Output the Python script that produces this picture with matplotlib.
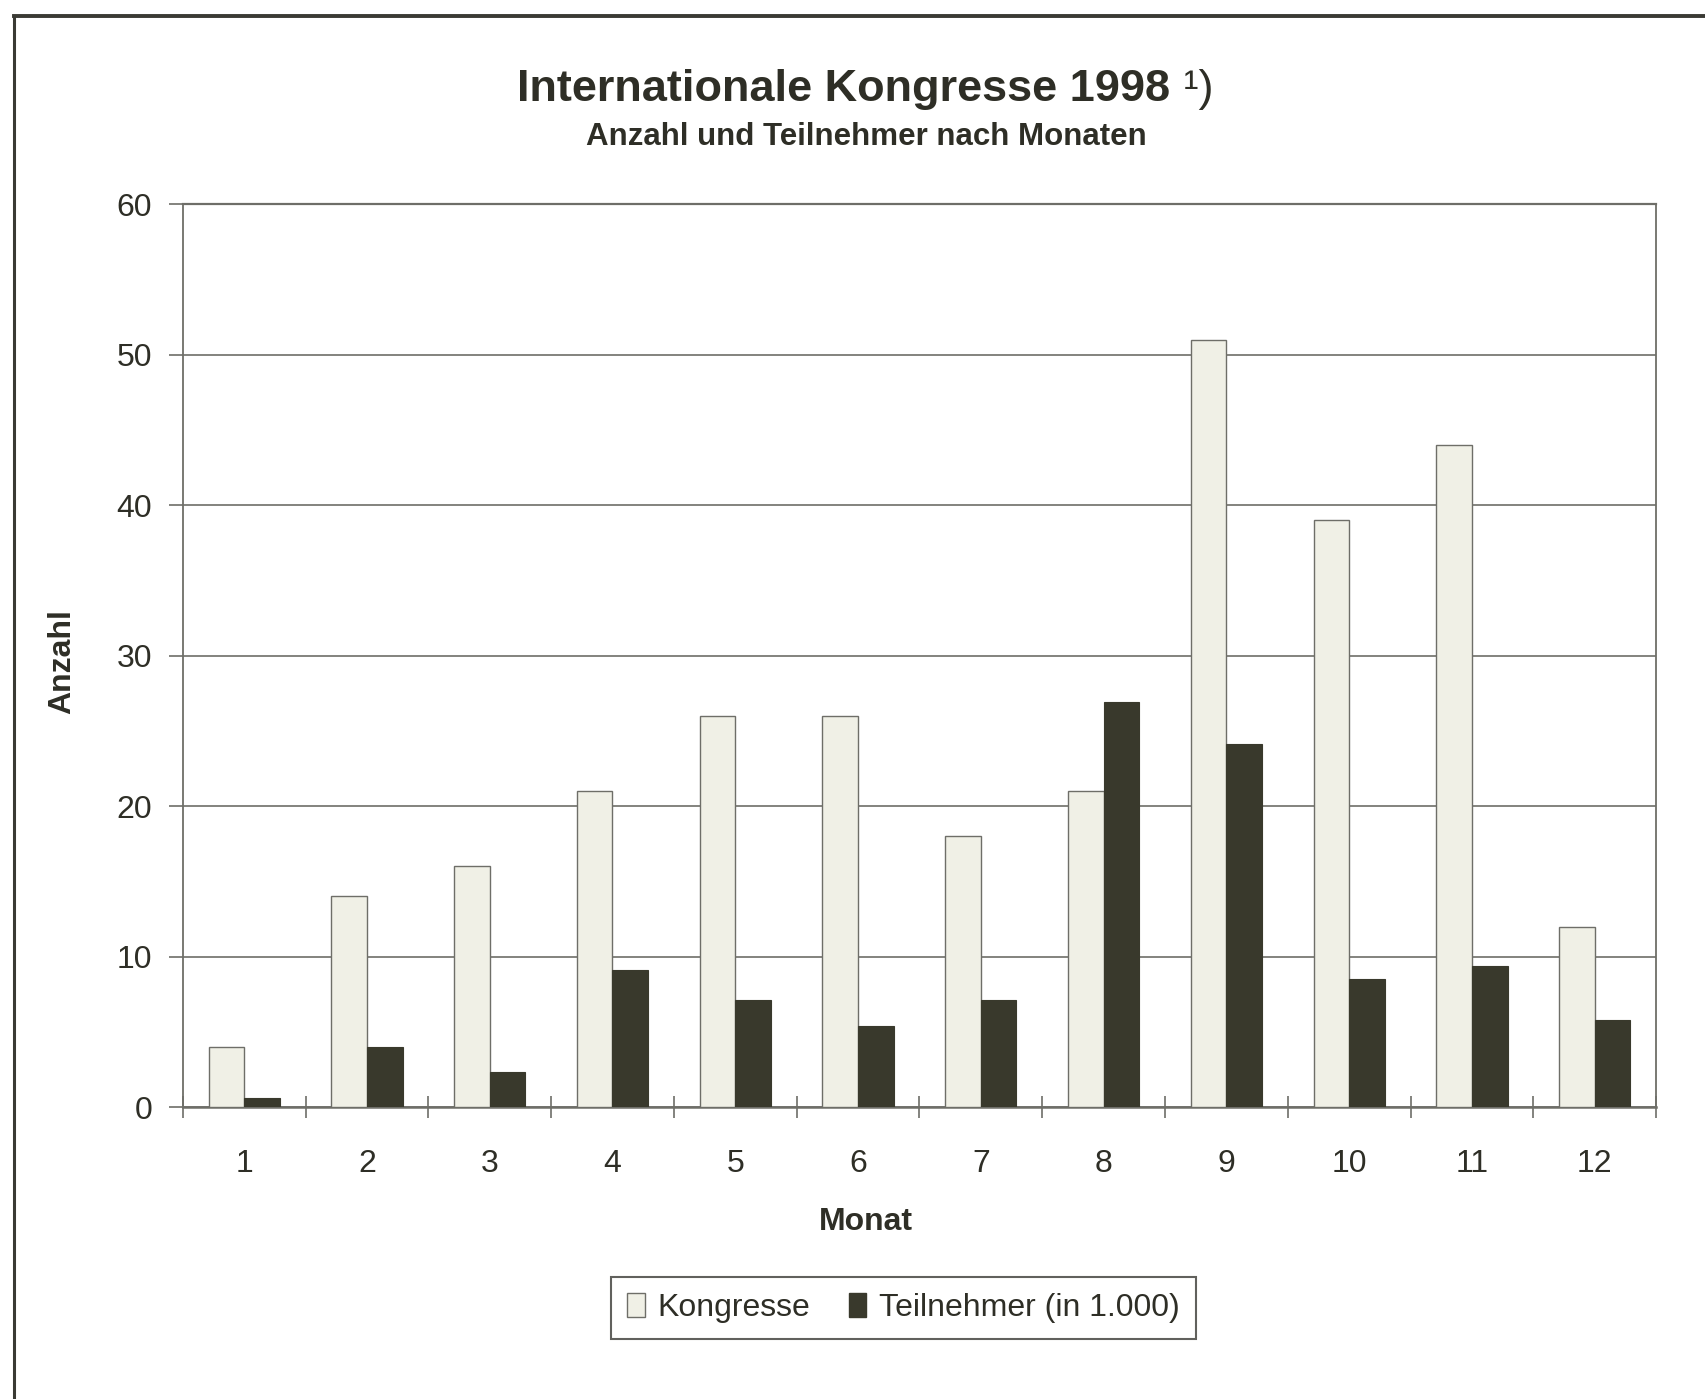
import matplotlib
matplotlib.use("Agg")
import matplotlib.pyplot as plt
import numpy as np
from matplotlib.lines import Line2D
from matplotlib.patches import Patch

plt.rcParams['font.family'] = ['Liberation Sans', 'DejaVu Sans']

months = ['1', '2', '3', '4', '5', '6', '7', '8', '9', '10', '11', '12']
kongresse = [4, 14, 16, 21, 26, 26, 18, 21, 51, 39, 44, 12]
teilnehmer = [0.6, 4.0, 2.3, 9.1, 7.1, 5.4, 7.1, 26.9, 24.1, 8.5, 9.4, 5.8]
y_ticks = [0, 10, 20, 30, 40, 50, 60]

light = '#f0f0e6'
dark = '#39392c'
text_col = '#2e2e26'
line_col = '#6e6e68'

fig = plt.figure(figsize=(17.05, 13.99), dpi=100)
fig.patch.set_facecolor('white')

# outer frame (only left and top edges are visible in the scan)
fig.add_artist(Line2D([0.0083, 0.0083], [0.0, 0.9886], transform=fig.transFigure,
                      color='#3a3a34', lw=2.2))
fig.add_artist(Line2D([0.0083, 1.0], [0.9886, 0.9886], transform=fig.transFigure,
                      color='#3a3a34', lw=2.8))

ax = fig.add_axes([0.1072, 0.2087, 0.8641, 0.6452])
x = np.arange(len(months))
w = 0.29
ax.bar(x - w / 2, kongresse, width=w, color=light, edgecolor=line_col, linewidth=1.0,
       zorder=3, label='Kongresse')
ax.bar(x + w / 2, teilnehmer, width=w, color=dark, edgecolor=dark, linewidth=0.8,
       zorder=3, label='Teilnehmer (in 1.000)')

ax.set_xlim(-0.5, len(months) - 0.5)
ax.set_ylim(0, 60)
ax.set_yticks(y_ticks)
ax.set_yticklabels([str(v) for v in y_ticks], fontsize=23, color=text_col)
ax.yaxis.grid(True, color=line_col, lw=1.2, zorder=1)
ax.set_axisbelow(True)

# month labels centred, tick marks at category boundaries
ax.set_xticks(x)
ax.set_xticklabels(months, fontsize=23, color=text_col)
ax.tick_params(axis='x', which='major', length=0, pad=30)
ax.set_xticks(np.arange(-0.5, len(months)), minor=True)
ax.tick_params(axis='x', which='minor', direction='inout', length=16, width=1.2,
               color=line_col)
ax.tick_params(axis='y', direction='out', length=10, width=1.2, color=line_col, pad=12)

for side in ['left', 'right', 'top', 'bottom']:
    ax.spines[side].set_color(line_col)
    ax.spines[side].set_linewidth(1.3)
ax.spines['top'].set_linewidth(1.6)
ax.spines['bottom'].set_linewidth(1.8)

fig.text(0.0364, 0.527, 'Anzahl', rotation=90, ha='center', va='center',
         fontsize=23, fontweight='bold', color=text_col)
fig.text(0.508, 0.1265, 'Monat', ha='center', va='center',
         fontsize=23, fontweight='bold', color=text_col)

title = fig.text(0.495, 0.936, 'Internationale Kongresse 1998', ha='center',
                 va='center', fontsize=32.5, fontweight='bold', color=text_col)
ax.annotate(' \u00b9)', xy=(1.0, 0.5), xycoords=title, ha='left', va='center',
            fontsize=32.5, color=text_col)
fig.text(0.508, 0.902, 'Anzahl und Teilnehmer nach Monaten', ha='center',
         va='center', fontsize=22.5, fontweight='bold', color=text_col)

handles = [Patch(facecolor=light, edgecolor=line_col, lw=1.0),
           Patch(facecolor=dark, edgecolor=dark)]
leg = fig.legend(handles, ['Kongresse', 'Teilnehmer (in 1.000)'], loc='center',
                 bbox_to_anchor=(0.530, 0.065), ncol=2, fontsize=23, frameon=True,
                 fancybox=False, edgecolor='#3a3a34', handlelength=0.55,
                 handleheight=0.8, handletextpad=0.4, columnspacing=1.2,
                 borderpad=0.5, labelcolor=text_col)
leg.get_frame().set_linewidth(1.5)

fig.savefig('out.png', dpi=100, facecolor='white')
